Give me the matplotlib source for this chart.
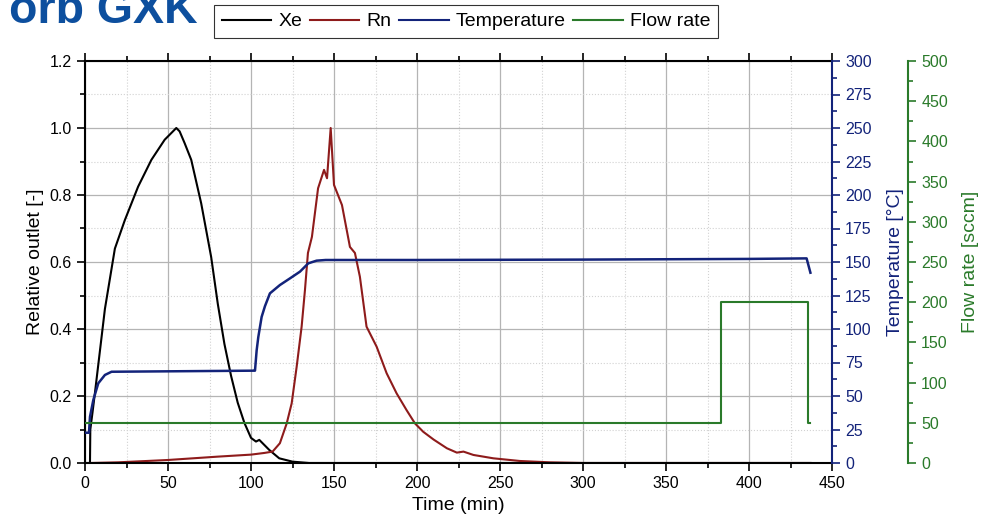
import matplotlib
matplotlib.use("Agg")
import matplotlib.pyplot as plt
from matplotlib.ticker import MultipleLocator, FormatStrFormatter
from matplotlib.lines import Line2D

plt.rcParams['font.family'] = ['Liberation Sans', 'DejaVu Sans']

# Xe relative outlet
xe_t = [0, 3.0, 3.2, 4.5, 6, 12, 18, 24, 32, 40, 48, 50, 52, 54, 55, 57, 60, 64, 70, 76, 80,
        84, 88, 92, 96, 100, 103, 105, 108, 111, 117, 125, 135, 437]
xe_v = [0, 0, 0.10, 0.15, 0.21, 0.46, 0.64, 0.725, 0.825, 0.905, 0.965, 0.975, 0.985, 0.995, 1.0, 0.99,
        0.955, 0.905, 0.775, 0.615, 0.475, 0.355, 0.26, 0.18, 0.12, 0.075, 0.064, 0.069, 0.054,
        0.039, 0.014, 0.004, 0, 0]

# Rn relative outlet
rn_t = [3, 20, 50, 80, 100, 108, 113, 117.4, 121.5, 124.5, 127.5, 130.5, 132.5, 134.3, 136.7,
        140.4, 144, 145.8, 148, 150, 152.4, 154.8, 159.6, 162.6, 165.6, 169.6, 175.7, 181.7,
        187.7, 193.7, 198.8, 203.8, 210, 218, 224, 228, 234, 246, 262, 280, 300, 437]
rn_v = [0, 0.002, 0.009, 0.019, 0.025, 0.03, 0.034, 0.059, 0.118, 0.178, 0.287, 0.407, 0.516,
        0.627, 0.675, 0.82, 0.875, 0.85, 1.0, 0.83, 0.80, 0.77, 0.645, 0.627, 0.556, 0.407,
        0.347, 0.268, 0.208, 0.158, 0.118, 0.093, 0.07, 0.044, 0.031, 0.034, 0.024, 0.014,
        0.006, 0.002, 0, 0]

# Temperature [°C]
temp_t = [0, 2.4, 3, 5, 8, 12, 16, 101.4, 102.4, 103.4, 104.4, 106.4, 108.4, 111.4, 117.4,
          123.5, 129.5, 134.5, 139.5, 145, 200, 300, 400, 434.7, 437]
temp_v = [22.6, 22.6, 34.5, 47, 59.5, 65.7, 68.1, 68.9, 68.9, 84, 94, 109, 117, 126.6, 132.8,
          137.8, 142.8, 149, 151, 151.5, 151.5, 151.8, 152.3, 152.7, 142]

# Flow rate [sccm]
flow_t = [0, 382.9, 382.9, 435.3, 435.3, 437]
flow_v = [50, 50, 200, 200, 50, 50]

c_xe = 'black'
c_rn = '#8e1b1b'
c_temp = '#13237a'
c_flow = '#2a7a2a'
c_title = '#0d4f9e'

fig = plt.figure(figsize=(9.97, 5.26), dpi=100)
ax = fig.add_axes([85 / 997, 63 / 526, 747 / 997, 402 / 526])

ax.plot(xe_t, xe_v, color=c_xe, lw=1.5)
ax.plot(rn_t, rn_v, color=c_rn, lw=1.5)
ax.set_xlim(0, 450)
ax.set_ylim(0, 1.2)
ax.xaxis.set_major_locator(MultipleLocator(50))
ax.xaxis.set_minor_locator(MultipleLocator(25))
ax.yaxis.set_major_locator(MultipleLocator(0.2))
ax.yaxis.set_minor_locator(MultipleLocator(0.1))
ax.yaxis.set_major_formatter(FormatStrFormatter('%.1f'))
ax.grid(which='major', color='#b4b4b4', lw=0.9, ls='-')
ax.grid(which='minor', color='#d2d2d2', lw=0.8, ls=':')
ax.set_axisbelow(True)
ax.tick_params(which='both', direction='out', top=True, labelsize=11.5, width=1.2)
ax.tick_params(which='major', length=6)
ax.tick_params(which='minor', length=3.5)
for s in ['left', 'bottom', 'top']:
    ax.spines[s].set_linewidth(1.5)
ax.spines['right'].set_visible(False)
ax.set_xlabel('Time (min)', fontsize=14, labelpad=4)
ax.set_ylabel('Relative outlet [-]', fontsize=14, labelpad=4)

# temperature axis
ax2 = ax.twinx()
ax2.plot(temp_t, temp_v, color=c_temp, lw=1.8)
ax2.set_ylim(0, 300)
ax2.yaxis.set_major_locator(MultipleLocator(25))
ax2.yaxis.set_minor_locator(MultipleLocator(12.5))
ax2.tick_params(which='both', direction='out', colors=c_temp, labelsize=11.5, width=1.2)
ax2.tick_params(which='major', length=6)
ax2.tick_params(which='minor', length=3.5)
ax2.spines['right'].set_color(c_temp)
ax2.spines['right'].set_linewidth(1.5)
for s in ['left', 'top', 'bottom']:
    ax2.spines[s].set_visible(False)
ax2.set_ylabel('Temperature [°C]', fontsize=14, color=c_temp, labelpad=11)

# flow axis
ax3 = ax.twinx()
ax3.plot(flow_t, flow_v, color=c_flow, lw=1.5)
ax3.set_ylim(0, 500)
ax3.spines['right'].set_position(('axes', 1 + 76 / 747))
ax3.yaxis.set_major_locator(MultipleLocator(50))
ax3.yaxis.set_minor_locator(MultipleLocator(25))
ax3.tick_params(which='both', direction='out', colors=c_flow, labelsize=11.5, width=1.2)
ax3.tick_params(which='major', length=6)
ax3.tick_params(which='minor', length=3.5)
ax3.spines['right'].set_color(c_flow)
ax3.spines['right'].set_linewidth(1.5)
for s in ['left', 'top', 'bottom']:
    ax3.spines[s].set_visible(False)
ax3.set_ylabel('Flow rate [sccm]', fontsize=14, color=c_flow, labelpad=10)

# cut-off slide title (cropped in the original too)
fig.text(198 / 997, 1 - 23 / 526, 'orb GXK', ha='right', va='baseline',
         fontsize=33.5, fontweight='bold', color=c_title)

handles = [Line2D([], [], color=c_xe, lw=1.5), Line2D([], [], color=c_rn, lw=1.5),
           Line2D([], [], color=c_temp, lw=1.5), Line2D([], [], color=c_flow, lw=1.5)]
leg = fig.legend(handles, ['Xe', 'Rn', 'Temperature', 'Flow rate'], loc='upper left',
                 bbox_to_anchor=(214 / 997, 1 - 5 / 526), ncol=4, frameon=True, fancybox=False,
                 edgecolor='black', fontsize=14, handlelength=2.55, handletextpad=0.35,
                 columnspacing=0.4, borderpad=0.4, borderaxespad=0)
leg.get_frame().set_linewidth(0.8)

fig.savefig('out.png', dpi=100)
